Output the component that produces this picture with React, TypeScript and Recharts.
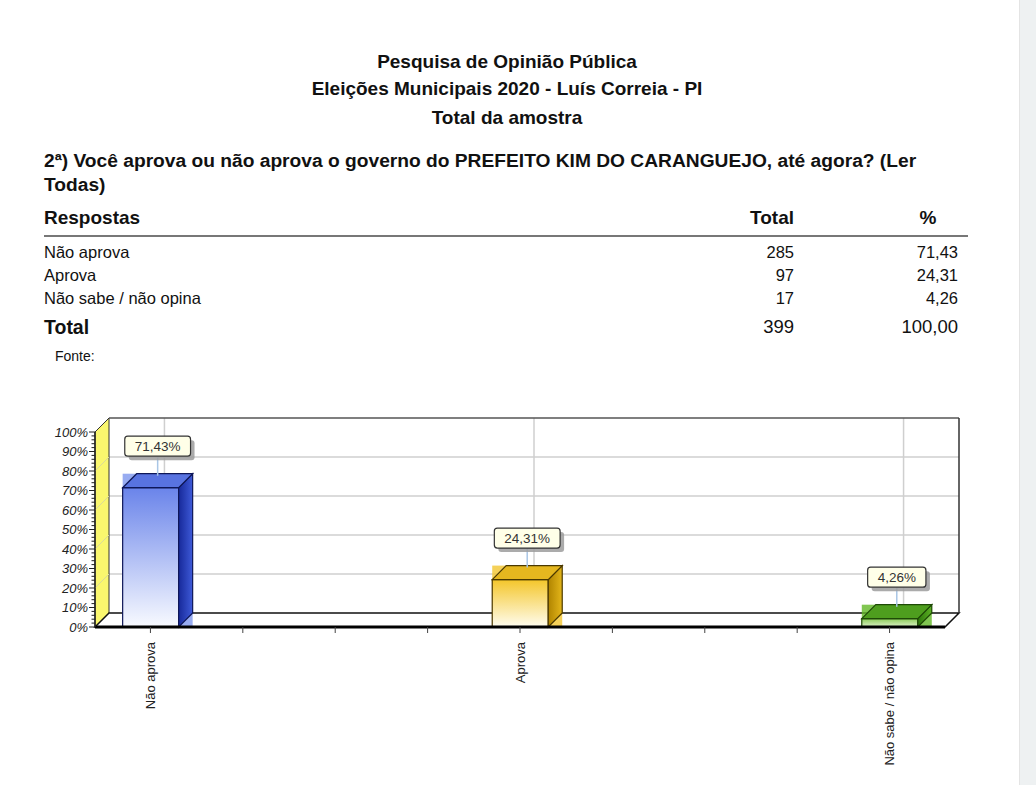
import React from "react";
import { BarChart, Bar, XAxis, YAxis, ReferenceArea, LabelList } from "recharts";

const categorias = ["Não aprova", "Aprova", "Não sabe / não opina"];
const totais = [285, 97, 17];
const percentuais = [71.43, 24.31, 4.26];
const totalGeral = 399;
const percentualGeral = "100,00";

const yMajorTicks = [0, 10, 20, 30, 40, 50, 60, 70, 80, 90, 100];
const yMinorTicks = Array.from({ length: 51 }, (_, i) => i * 2);
const xTicks = [0, 0.25, 0.5, 0.75, 1, 1.25, 1.5, 1.75, 2];
const xDomain = [-0.15, 2.15];
const gridValues = [20, 40, 60, 80];

const FONT = "'Liberation Sans', Arial, sans-serif";
const D = 14; // profundidade 3D

const cores = [
  { front: ["#6A84EA", "#F8FAFF"], side: ["#17299A", "#3E5AD8"], top: "#5873E0", line: "#0E1758", glow: "#7E97EE" },
  { front: ["#F4C62A", "#FFFDF0"], side: ["#B08400", "#E4B61A"], top: "#E5B71F", line: "#4A3800", glow: "#F2C630" },
  { front: ["#8CCB5A", "#DDF2C8"], side: ["#2C760A", "#5CB124"], top: "#4E9E1E", line: "#1E4A06", glow: "#62B826" },
];

const dados = categorias.map((nome, i) => ({ nome, pos: i, pct: percentuais[i] }));

const fmt = (v: number) => v.toFixed(2).replace(".", ",");

function Bar3D(props: any) {
  const { x, y, width: w, height: h, index } = props;
  const c = cores[index];
  const gf = `front-${index}`;
  const gs = `side-${index}`;
  return (
    <g>
      <defs>
        <linearGradient id={gf} x1="0" y1="0" x2="0" y2="1">
          <stop offset="0%" stopColor={c.front[0]} />
          <stop offset="100%" stopColor={c.front[1]} />
        </linearGradient>
        <linearGradient id={gs} x1="0" y1="0" x2="1" y2="0">
          <stop offset="0%" stopColor={c.side[0]} />
          <stop offset="100%" stopColor={c.side[1]} />
        </linearGradient>
      </defs>
      <rect x={x} y={y - D} width={w + D} height={h + D} fill={c.glow} opacity={0.8} />
      <rect x={x} y={y} width={w} height={h} fill={`url(#${gf})`} stroke={c.line} strokeWidth={1.2} />
      <polygon
        points={`${x + w},${y} ${x + w + D},${y - D} ${x + w + D},${y + h - D} ${x + w},${y + h}`}
        fill={`url(#${gs})`}
        stroke={c.line}
        strokeWidth={1.2}
      />
      <polygon
        points={`${x},${y} ${x + D},${y - D} ${x + w + D},${y - D} ${x + w},${y}`}
        fill={c.top}
        stroke={c.line}
        strokeWidth={1.2}
      />
    </g>
  );
}

function textWidth(s: string, size: number) {
  let t = 0;
  for (const ch of s) {
    if (ch === ",") t += 0.278;
    else if (ch === "%") t += 0.889;
    else t += 0.556;
  }
  return t * size;
}

function BoxLabel(props: any) {
  const { x, y, width, value } = props;
  const txt = `${fmt(Number(value))}%`;
  const cx = x + width / 2 + D / 2;
  const bw = textWidth(txt, 13.5) + 20;
  const bh = 20;
  const bottom = y - D - 17.5;
  const top = bottom - bh;
  return (
    <g>
      <line x1={cx} y1={bottom} x2={cx} y2={y - D + 2} stroke="#A9C6E6" strokeWidth={1.5} />
      <rect x={cx - bw / 2 + 4} y={top + 4} width={bw} height={bh} rx={3} fill="#9C9C9C" opacity={0.85} />
      <rect x={cx - bw / 2} y={top} width={bw} height={bh} rx={3} fill="#FFFFE8" stroke="#333" strokeWidth={1.2} />
      <text x={cx} y={top + bh / 2} dy="0.36em" textAnchor="middle" fontFamily={FONT} fontSize={13.5} fill="#333">
        {txt}
      </text>
    </g>
  );
}

function Walls(props: any) {
  const { x, y, width: w, height: h } = props;
  const yOf = (v: number) => y + h * (1 - v / 100);
  const xOf = (p: number) => x + (w * (p - xDomain[0])) / (xDomain[1] - xDomain[0]);
  return (
    <g>
      <rect x={x + D} y={y - D} width={w} height={h} fill="#FFFFFF" />
      {gridValues.map((v) => (
        <line key={`h${v}`} x1={x + D} x2={x + w + D} y1={yOf(v) - D} y2={yOf(v) - D} stroke="#CFCFCF" strokeWidth={1.5} />
      ))}
      {categorias.map((_, i) => (
        <line key={`v${i}`} x1={xOf(i) + D} x2={xOf(i) + D} y1={y - D} y2={y + h - D} stroke="#CFCFCF" strokeWidth={1.5} />
      ))}
      <polygon
        points={`${x},${y} ${x + D},${y - D} ${x + D},${y + h - D} ${x},${y + h}`}
        fill="#FAF76E"
        stroke="#333"
        strokeWidth={1}
      />
      {gridValues.map((v) => (
        <line key={`d${v}`} x1={x} x2={x + D} y1={yOf(v)} y2={yOf(v) - D} stroke="#DADA9A" strokeWidth={1} />
      ))}
      <polygon
        points={`${x},${y + h} ${x + D},${y + h - D} ${x + w + D},${y + h - D} ${x + w},${y + h}`}
        fill="#FFFFFF"
        stroke="#111"
        strokeWidth={1.5}
      />
      <line x1={x + D} x2={x + w + D} y1={y - D} y2={y - D} stroke="#555" strokeWidth={1.5} />
      <line x1={x + w + D} x2={x + w + D} y1={y - D} y2={y + h - D} stroke="#333" strokeWidth={1.5} />
    </g>
  );
}

function YTick(props: any) {
  const { x, y, payload } = props;
  const v = payload.value;
  const major = yMajorTicks.includes(v);
  return (
    <g>
      <line x1={x - (major ? 6 : 3.5)} x2={x} y1={y} y2={y} stroke="#222" strokeWidth={1} />
      {major && (
        <text x={x - 7} y={y} dy="0.36em" textAnchor="end" fontFamily={FONT} fontStyle="italic" fontSize={13} fill="#222">
          {`${v}%`}
        </text>
      )}
    </g>
  );
}

function XTick(props: any) {
  const { x, y, payload } = props;
  const v = payload.value;
  if (!Number.isInteger(v)) return null;
  const ty = y + 7;
  return (
    <text
      x={x}
      y={ty}
      transform={`rotate(-90, ${x}, ${ty})`}
      textAnchor="end"
      dy="0.36em"
      fontFamily={FONT}
      fontSize={13}
      fill="#222"
    >
      {categorias[v]}
    </text>
  );
}

const abs = (left: number, top: number, extra: React.CSSProperties = {}): React.CSSProperties => ({
  position: "absolute",
  left,
  top,
  fontFamily: FONT,
  color: "#111",
  whiteSpace: "nowrap",
  ...extra,
});

export default function App() {
  const rowTops = [242, 265, 288];
  return (
    <div style={{ position: "absolute", left: 0, top: 0, width: 1036, height: 785, background: "#FFFFFF", overflow: "hidden" }}>
      <div style={{ position: "absolute", left: 1019, top: 0, width: 17, height: 785, background: "#EEF1F2", borderLeft: "1px solid #E4E4E4" }} />

      <div style={abs(0, 51, { width: 1014, textAlign: "center", fontSize: 19, fontWeight: "bold", lineHeight: "22px" })}>
        Pesquisa de Opinião Pública
      </div>
      <div style={abs(0, 78, { width: 1014, textAlign: "center", fontSize: 19, fontWeight: "bold", lineHeight: "22px" })}>
        Eleições Municipais 2020 - Luís Correia - PI
      </div>
      <div style={abs(0, 107, { width: 1014, textAlign: "center", fontSize: 19, fontWeight: "bold", lineHeight: "22px" })}>
        Total da amostra
      </div>

      <div style={abs(44, 148, { fontSize: 19.2, fontWeight: "bold", lineHeight: "25px" })}>
        2ª) Você aprova ou não aprova o governo do PREFEITO KIM DO CARANGUEJO, até agora? (Ler
      </div>
      <div style={abs(44, 172, { fontSize: 19.2, fontWeight: "bold", lineHeight: "25px" })}>Todas)</div>

      <div style={abs(44, 207, { fontSize: 19, fontWeight: "bold", lineHeight: "22px" })}>Respostas</div>
      <div style={abs(694, 207, { width: 100, textAlign: "right", fontSize: 19, fontWeight: "bold", lineHeight: "22px" })}>Total</div>
      <div style={abs(900, 207, { width: 56, textAlign: "center", fontSize: 19, fontWeight: "bold", lineHeight: "22px" })}>%</div>
      <div style={{ position: "absolute", left: 44, top: 235, width: 924, height: 2, background: "#777" }} />

      {categorias.map((nome, i) => (
        <React.Fragment key={nome}>
          <div style={abs(44, rowTops[i], { fontSize: 16.5, lineHeight: "20px" })}>{nome}</div>
          <div style={abs(694, rowTops[i], { width: 100, textAlign: "right", fontSize: 16.5, lineHeight: "20px" })}>{totais[i]}</div>
          <div style={abs(858, rowTops[i], { width: 100, textAlign: "right", fontSize: 16.5, lineHeight: "20px" })}>
            {fmt(percentuais[i])}
          </div>
        </React.Fragment>
      ))}

      <div style={abs(44, 316, { fontSize: 19.5, fontWeight: "bold", lineHeight: "22px" })}>Total</div>
      <div style={abs(694, 316, { width: 100, textAlign: "right", fontSize: 18.5, lineHeight: "22px" })}>{totalGeral}</div>
      <div style={abs(858, 316, { width: 100, textAlign: "right", fontSize: 18.5, lineHeight: "22px" })}>{percentualGeral}</div>

      <div style={abs(55, 348, { fontSize: 14, lineHeight: "16px" })}>Fonte:</div>

      <div style={{ position: "absolute", left: 0, top: 400 }}>
        <BarChart width={1000} height={377} data={dados} margin={{ top: 32, right: 55, bottom: 0, left: 35 }}>
          <ReferenceArea
            x1={xDomain[0]}
            x2={xDomain[1]}
            y1={0}
            y2={100}
            ifOverflow="visible"
            shape={<Walls />}
            zIndex={50}
          />
          <XAxis
            dataKey="pos"
            type="number"
            domain={xDomain}
            ticks={xTicks}
            interval={0}
            height={150}
            tick={<XTick />}
            tickSize={6}
            tickLine={{ stroke: "#444" }}
            axisLine={{ stroke: "#000", strokeWidth: 3 }}
            allowDataOverflow
          />
          <YAxis
            type="number"
            domain={[0, 100]}
            ticks={yMinorTicks}
            interval={0}
            width={60}
            tick={<YTick />}
            tickLine={false}
            tickSize={0}
            tickMargin={0}
            axisLine={{ stroke: "#222", strokeWidth: 1.5 }}
          />
          <Bar dataKey="pct" barSize={56} shape={<Bar3D />} isAnimationActive={false}>
            <LabelList dataKey="pct" content={<BoxLabel />} />
          </Bar>
        </BarChart>
      </div>
    </div>
  );
}
